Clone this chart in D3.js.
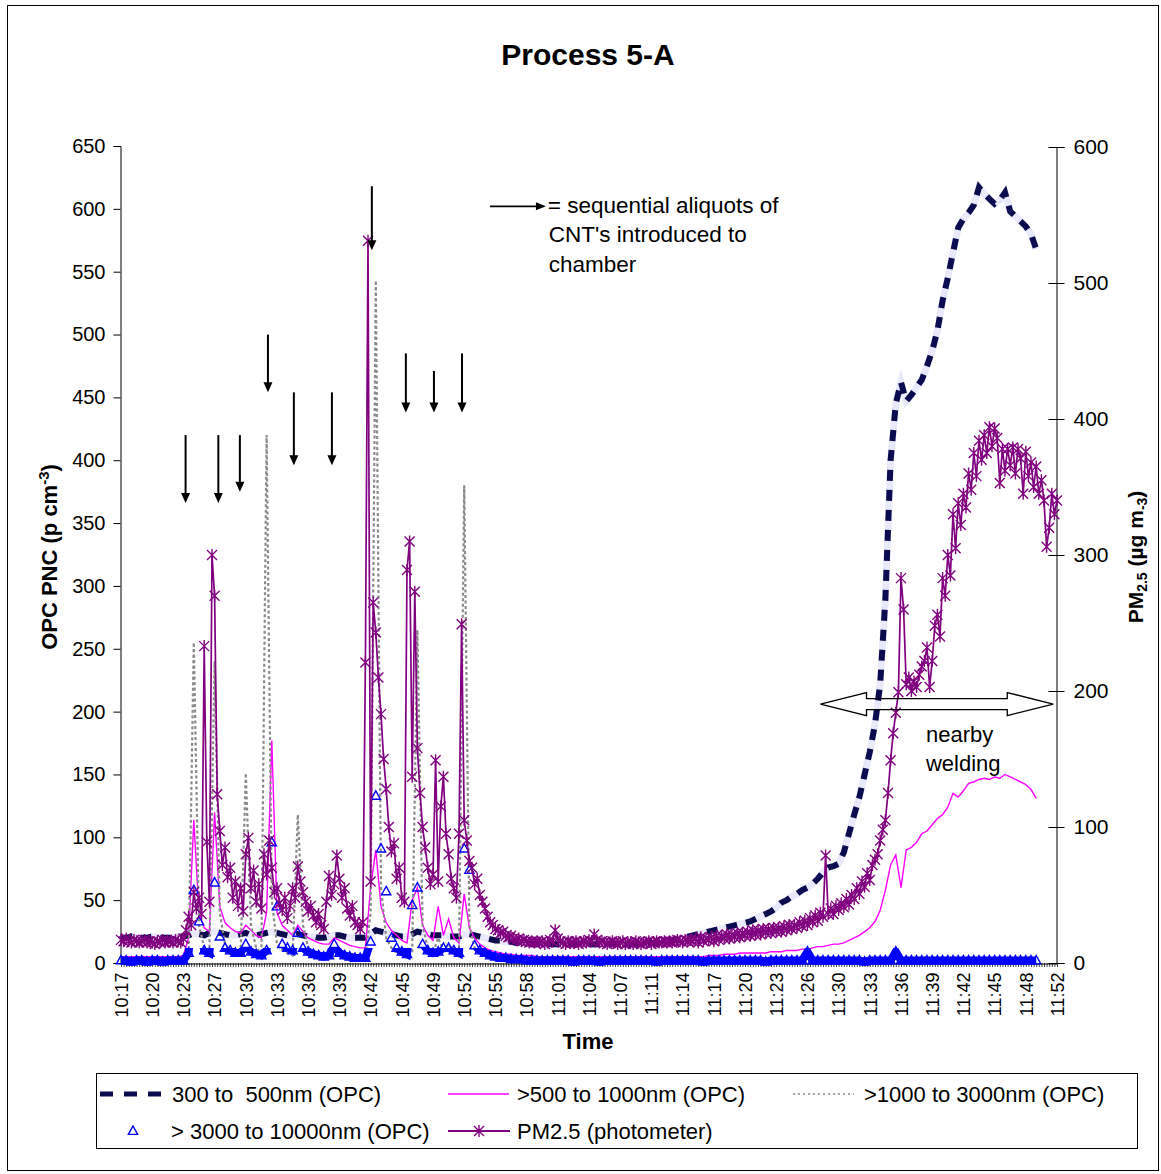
<!DOCTYPE html>
<html><head><meta charset="utf-8">
<script src="https://cdn.jsdelivr.net/npm/d3@7"></script>
<style>
body{margin:0;background:#fff}
svg text{font-family:"Liberation Sans",Arial,Helvetica,sans-serif;fill:#000}
</style>
</head><body>
<svg id="chart" width="1161" height="1174"></svg>
<script>
// ---------------- DATA ----------------
const title = "Process 5-A";
const timeLabels = ["10:17","10:20","10:23","10:27","10:30","10:33","10:36","10:39","10:42","10:45","10:49","10:52","10:55","10:58","11:01","11:04","11:07","11:11","11:14","11:17","11:20","11:23","11:26","11:30","11:33","11:36","11:39","11:42","11:45","11:48","11:52"];
const opcSamplesPerLabel = 6;   // OPC readings between two time labels
const pmSamplesPerLabel = 12;   // photometer readings between two time labels
const leftTicks = [0,50,100,150,200,250,300,350,400,450,500,550,600,650];
const rightTicks = [0,100,200,300,400,500,600];

// 300 to 500nm (OPC), p cm-3 (left axis)
const opc300_500 = [
 20,20,21,20,20,20,21,20,20,20,20,21,21,
 22,24,23,22,24,25,24,
 23,22,22,23,24,22,22,23,24,25,
 24,23,22,22,23,22,21,21,20,20,
 21,22,22,21,20,20,20,20,23,26,
 25,24,23,22,21,21,23,25,24,23,
 22,22,22,21,21,21,23,23,22,21,
 20,19,18,18,17,17,16,16,16,15,15,15,15,15,15,
 15,15,15,15,15,15,15,15,15,15,15,15,15,15,
 15,15,16,16,16,17,17,18,19,20,
 21,22,23,24,25,26,27,28,29,30,
 31,32,33,35,37,39,41,44,48,50,
 53,55,58,60,63,67,72,76,77,79,
 88,103,118,132,150,168,190,222,290,400,
 445,462,447,452,458,464,475,487,503,527,
 545,565,585,592,597,603,617,612,608,604,
 607,613,598,594,590,586,580,568];

// >500 to 1000nm (OPC)
const opc500_1000 = [
 5,5,5,5,5,5,5,5,5,5,5,5,6,
 20,114,40,28,25,120,45,
 32,28,25,24,30,26,22,20,40,177,
 40,30,26,22,30,25,20,18,16,15,
 15,20,18,16,14,13,12,12,60,90,
 45,32,26,22,18,16,50,60,30,22,
 18,45,22,35,20,16,55,28,20,15,
 12,10,9,8,7,7,6,6,6,6,5,5,5,5,5,
 5,5,5,5,5,5,5,5,5,5,5,5,5,5,
 5,5,5,5,5,5,5,5,5,5,5,5,5,5,
 6,6,6,7,7,7,
 8,8,8,8,8,8,9,9,9,10,
 10,10,11,11,12,13,13,14,15,15,
 16,18,20,22,25,28,33,42,58,78,
 86,60,90,92,96,103,105,110,115,118,
 124,135,132,137,143,144,146,147,146,148,
 147,150,148,146,144,142,138,131];

// >1000 to 3000nm (OPC)
const opc1000_3000 = [
 1,1,1,1,1,1,1,1,1,1,1,1,1,
 5,255,30,12,10,240,40,
 15,10,8,8,151,30,12,8,420,50,
 15,10,8,6,118,30,12,8,6,5,
 5,6,8,6,5,5,4,4,40,543,
 60,20,12,8,6,5,8,265,30,12,
 8,20,10,15,8,6,380,30,12,8,
 6,5,4,3,3,2,2,2,1,1,1,1,1,1,1,
 1,1,1,1,1,1,1,1,1,1,1,1,1,1,
 1,1,1,1,1,1,1,1,1,1,
 1,1,1,1,1,1,1,1,1,1,
 1,1,1,1,1,1,1,1,1,1,
 1,1,1,10,1,1,1,1,1,1,
 1,1,1,1,1,1,1,1,1,1,
 10,1,1,1,1,1,1,1,1,1,
 1,1,1,1,1,1,1,1,1,1,
 1,1,1,1,1,1,1,1];

// > 3000 to 10000nm (OPC)
const opc3000_10000 = [
 2,2,1,2,2,1,2,2,1,2,2,2,2,
 8,58,33,10,8,64,21,
 12,10,8,8,15,9,7,6,10,96,
 45,15,12,10,24,12,9,7,6,5,
 6,15,8,6,5,4,4,4,17,133,
 91,57,20,12,9,7,46,60,15,10,
 8,9,12,12,10,8,91,74,14,10,
 8,6,5,4,4,3,3,3,2,2,2,2,2,2,2,
 2,2,1,2,2,2,2,1,2,2,2,2,2,2,
 2,2,2,2,1,2,2,2,2,2,
 2,2,2,1,2,2,2,2,2,2,
 2,2,2,2,2,1,2,2,2,2,
 2,2,2,9,2,2,2,2,2,2,
 2,2,2,2,1,2,2,2,2,2,
 9,2,2,2,2,2,2,2,2,2,
 2,2,2,2,2,2,2,2,2,2,
 2,2,2,2,2,2,2,2];

// PM2.5 (photometer), ug m-3 (right axis)
const pm25 = [
 17,16,18,16,15,17,16,15,16,17,
 15,16,15,14,16,15,17,15,16,16,
 15,17,16,15,18,24,34,28,52,40,
 48,36,233,89,45,300,270,124,97,72,
 85,63,70,48,60,42,55,38,80,92,
 55,68,45,58,40,80,65,90,70,52,
 55,44,39,48,33,42,55,48,71,60,
 52,45,38,42,35,30,36,28,25,45,
 64,50,58,79,62,48,55,40,35,42,
 30,28,25,30,221,531,60,265,243,210,
 183,150,128,100,82,88,62,70,48,45,
 289,310,137,273,158,125,100,85,70,58,
 65,149,60,115,137,95,80,62,55,48,
 95,249,105,90,75,70,58,62,50,45,
 40,34,30,28,25,24,22,23,20,19,
 20,18,17,18,16,17,16,15,16,15,
 16,15,16,14,15,17,16,24,18,16,
 15,14,16,15,15,16,14,15,16,15,
 17,16,21,17,15,16,15,14,15,16,
 15,14,15,16,14,15,15,14,16,15,
 14,15,15,16,14,15,16,15,15,16,
 15,16,15,16,17,16,15,17,16,17,
 16,18,15,19,16,18,17,19,16,20,
 17,20,18,21,18,21,19,22,19,22,
 20,23,20,24,21,24,21,25,22,25,
 22,26,23,26,23,27,24,28,25,28,
 26,30,27,31,28,33,30,35,31,37,
 34,79,36,40,36,42,39,44,41,47,
 43,50,47,55,51,60,56,66,61,72,
 76,80,90,98,105,125,149,169,184,199,
 283,260,205,210,200,207,203,212,218,222,
 232,203,222,248,256,240,283,270,300,285,
 330,305,338,322,345,335,360,348,375,358,
 384,370,388,375,394,380,393,386,353,378,
 362,378,366,379,360,378,371,345,376,358,
 368,350,365,345,355,340,306,320,345,330,
 340];

// annotation arrows: [time position (label units), top, tip] in left-axis units
const aliquotArrows = [[2.07,420,366],[3.12,420,366],[3.81,420,375],[4.71,500,454],[5.54,454,396],[6.76,454,396],[8.04,618,567],[9.13,485,438],[10.03,471,438],[10.93,485,438]];
const keyArrow = [11.83, 13.62, 602];
const keyText = [["= sequential aliquots of",13.68,597],["CNT's introduced to",13.71,574],["chamber",13.71,550]];
const weldingArrow = [22.42, 29.88, 190.4];       // right-axis units
const weldingText = [["nearby",25.8,162.5],["welding",25.8,141]];

const legendItems = [
 {label:"300 to  500nm (OPC)", type:"navy"},
 {label:">500 to 1000nm (OPC)", type:"pink"},
 {label:">1000 to 3000nm (OPC)", type:"gray"},
 {label:"> 3000 to 10000nm (OPC)", type:"blue"},
 {label:"PM2.5 (photometer)", type:"pm"}
];

// ---------------- DRAW ----------------
const svg = d3.select("#chart");
const x = d3.scaleLinear().domain([0, timeLabels.length-1]).range([121, 1057]);
const yL = d3.scaleLinear().domain([0, 650]).range([963, 146]);
const yR = d3.scaleLinear().domain([0, 600]).range([963, 147]);
const xo = i => x(i / opcSamplesPerLabel);
const xp = i => x(i / pmSamplesPerLabel);

const C = {navy:"#0b0b4f", navyGap:"#e9e9fb", pink:"#ff00ff", gray:"#8a8a8a", blue:"#0000ff", pm:"#800080"};

// outer frame
svg.append("rect").attr("x",7.5).attr("y",5.5).attr("width",1151).attr("height",1165)
  .attr("fill","none").attr("stroke","#000").attr("stroke-width",1);

svg.append("text").attr("x",588).attr("y",65).attr("text-anchor","middle")
  .style("font-weight","bold").style("font-size","30px").text(title);

// dense category ticks
svg.append("g").selectAll("line").data(d3.range(pm25.length)).join("line")
  .attr("x1", i=>xp(i)+0.5).attr("x2", i=>xp(i)+0.5).attr("y1",963).attr("y2",967)
  .attr("stroke","#444").attr("stroke-width",1);

// left axis
const gL = svg.append("g").attr("transform","translate(120.5,0)")
  .call(d3.axisLeft(yL).tickValues(leftTicks).tickSize(7).tickPadding(8));
gL.select(".domain").attr("stroke","#000").attr("stroke-width",1);
gL.selectAll("text").style("font-size","20px").attr("font-family",null);
// right axis
const gR = svg.append("g").attr("transform","translate(1056.5,0)")
  .call(d3.axisRight(yR).tickValues(rightTicks).tickSize(8).tickPadding(9));
gR.selectAll(".tick line").attr("x1",-8);
gR.select(".domain").attr("stroke","#000");
gR.selectAll("text").style("font-size","21px").attr("font-family",null);
// bottom axis
const gB = svg.append("g").attr("transform","translate(0,963.5)")
  .call(d3.axisBottom(x).tickValues(d3.range(timeLabels.length)).tickFormat(i=>timeLabels[i]).tickSize(0).tickSizeOuter(0));
gB.select(".domain").attr("stroke","#000");
gB.selectAll("text").style("font-size","18px").attr("font-family",null)
  .attr("text-anchor","end").attr("y",0).attr("dy","0.35em")
  .attr("transform","translate(0,9) rotate(-90)");

// axis titles
svg.append("text").attr("transform","translate(57,557) rotate(-90)").attr("text-anchor","middle")
  .style("font-weight","bold").style("font-size","22px")
  .call(t=>{t.append("tspan").text("OPC PNC (p cm");
            t.append("tspan").attr("dy",-8).style("font-size","15px").text("-3");
            t.append("tspan").attr("dy",8).text(")");});
svg.append("text").attr("transform","translate(1143,557) rotate(-90)").attr("text-anchor","middle")
  .style("font-weight","bold").style("font-size","21px")
  .call(t=>{t.append("tspan").text("PM");
            t.append("tspan").attr("dy",4).style("font-size","14px").text("2.5");
            t.append("tspan").attr("dy",-4).text(" (\u00b5g m");
            t.append("tspan").attr("dy",4).style("font-size","14px").text("-3");
            t.append("tspan").attr("dy",-4).text(")");});
svg.append("text").attr("x",588).attr("y",1049).attr("text-anchor","middle")
  .style("font-weight","bold").style("font-size","22px").text("Time");

// series
const lineL = d3.line().x((d,i)=>xo(i)).y(d=>yL(d));
const lineR = d3.line().x((d,i)=>xp(i)).y(d=>yR(d));
const series = svg.append("g");

// 300-500 dashed
series.append("path").attr("d",lineL(opc300_500)).attr("fill","none")
  .attr("stroke",C.navyGap).attr("stroke-width",7);
series.append("path").attr("d",lineL(opc300_500)).attr("fill","none")
  .attr("stroke",C.navy).attr("stroke-width",6).attr("stroke-dasharray","11,9");
// 500-1000
series.append("path").attr("d",lineL(opc500_1000)).attr("fill","none")
  .attr("stroke",C.pink).attr("stroke-width",1.4);
// 1000-3000 dotted
series.append("path").attr("d",lineL(opc1000_3000)).attr("fill","none")
  .attr("stroke",C.gray).attr("stroke-width",2.2).attr("stroke-dasharray","3,2.5");
// 3000-10000 triangles (dense markers merge into a band near zero)
svg.append("clipPath").attr("id","lowBand").append("rect")
  .attr("x",100).attr("width",1000).attr("y",yL(12)).attr("height",yL(0)-yL(12)+6);
series.append("path").attr("d",lineL(opc3000_10000)).attr("fill","none")
  .attr("stroke",C.blue).attr("stroke-width",8).attr("clip-path","url(#lowBand)");
const tri = "M0,-5L4.6,3.4L-4.6,3.4Z";
series.append("g").selectAll("path").data(opc3000_10000).join("path")
  .attr("d",tri).attr("transform",(d,i)=>`translate(${xo(i)},${yL(d)})`)
  .attr("fill","none").attr("stroke",C.blue).attr("stroke-width",1.4);
// PM2.5 with star markers (secondary axis, drawn in front)
series.append("path").attr("d",lineR(pm25)).attr("fill","none")
  .attr("stroke",C.pm).attr("stroke-width",1.7);
const star = "M-5,-5L5,5M-5,5L5,-5M0,-6L0,6";
series.append("g").selectAll("path").data(pm25).join("path")
  .attr("d",star).attr("transform",(d,i)=>`translate(${xp(i)},${yR(d)})`)
  .attr("fill","none").attr("stroke",C.pm).attr("stroke-width",1.4);

// annotation arrows
const ann = svg.append("g");
function downArrow(u, top, tip){
  const px = x(u), y0 = yL(top), y1 = yL(tip);
  ann.append("line").attr("x1",px).attr("x2",px).attr("y1",y0).attr("y2",y1-8)
    .attr("stroke","#000").attr("stroke-width",2);
  ann.append("path").attr("d",`M${px-4.5},${y1-10}L${px+4.5},${y1-10}L${px},${y1}Z`).attr("fill","#000");
}
aliquotArrows.forEach(a=>downArrow(...a));
{
  const x0 = x(keyArrow[0]), x1 = x(keyArrow[1]), yy = yL(keyArrow[2]);
  ann.append("line").attr("x1",x0).attr("x2",x1-9).attr("y1",yy).attr("y2",yy).attr("stroke","#000").attr("stroke-width",1.6);
  ann.append("path").attr("d",`M${x1-10},${yy-4}L${x1},${yy}L${x1-10},${yy+4}Z`).attr("fill","#000");
}
ann.selectAll("text.key").data(keyText).join("text").attr("class","key")
  .attr("x",d=>x(d[1])).attr("y",d=>yL(d[2])).style("font-size","22.5px").text(d=>d[0]);
{
  const x0 = x(weldingArrow[0]), x1 = x(weldingArrow[1]), yy = yR(weldingArrow[2]);
  const hl = 46, sh = 5.5, hh = 11.5;
  ann.append("path").attr("d",
    `M${x0},${yy}L${x0+hl},${yy-hh}L${x0+hl},${yy-sh}L${x1-hl},${yy-sh}L${x1-hl},${yy-hh}L${x1},${yy}`+
    `L${x1-hl},${yy+hh}L${x1-hl},${yy+sh}L${x0+hl},${yy+sh}L${x0+hl},${yy+hh}Z`)
    .attr("fill","none").attr("stroke","#000").attr("stroke-width",1.3);
}
ann.selectAll("text.weld").data(weldingText).join("text").attr("class","weld")
  .attr("x",d=>x(d[1])).attr("y",d=>yR(d[2])).style("font-size","22px").text(d=>d[0]);

// legend
const lg = svg.append("g");
lg.append("rect").attr("x",96.5).attr("y",1073.5).attr("width",1041).attr("height",75)
  .attr("fill","#fff").attr("stroke","#000").attr("stroke-width",1);
const slots = [[100,1094],[448,1094],[793,1094],[100,1131],[448,1131]];
const textX = [172,517,864,171,517];
legendItems.forEach((it,k)=>{
  const [sx, sy] = slots[k];
  const g = lg.append("g");
  if(it.type==="navy") g.append("line").attr("x1",sx).attr("x2",sx+61).attr("y1",sy).attr("y2",sy)
     .attr("stroke",C.navy).attr("stroke-width",5).attr("stroke-dasharray","13,11");
  if(it.type==="pink") g.append("line").attr("x1",sx).attr("x2",sx+61).attr("y1",sy).attr("y2",sy)
     .attr("stroke",C.pink).attr("stroke-width",1.5);
  if(it.type==="gray") g.append("line").attr("x1",sx).attr("x2",sx+61).attr("y1",sy).attr("y2",sy)
     .attr("stroke",C.gray).attr("stroke-width",1.5).attr("stroke-dasharray","2,3");
  if(it.type==="blue") g.append("path").attr("d",tri).attr("transform",`translate(${sx+33},${sy})`)
     .attr("fill","none").attr("stroke",C.blue).attr("stroke-width",1.4);
  if(it.type==="pm"){
     g.append("line").attr("x1",sx).attr("x2",sx+62).attr("y1",sy).attr("y2",sy).attr("stroke",C.pm).attr("stroke-width",2);
     g.append("path").attr("d",star).attr("transform",`translate(${sx+31},${sy})`).attr("fill","none").attr("stroke",C.pm).attr("stroke-width",1.4);
  }
  g.append("text").attr("x",textX[k]).attr("y",sy).attr("dy","0.35em").style("font-size","22px")
   .style("white-space","pre").text(it.label);
});
</script>
</body></html>
